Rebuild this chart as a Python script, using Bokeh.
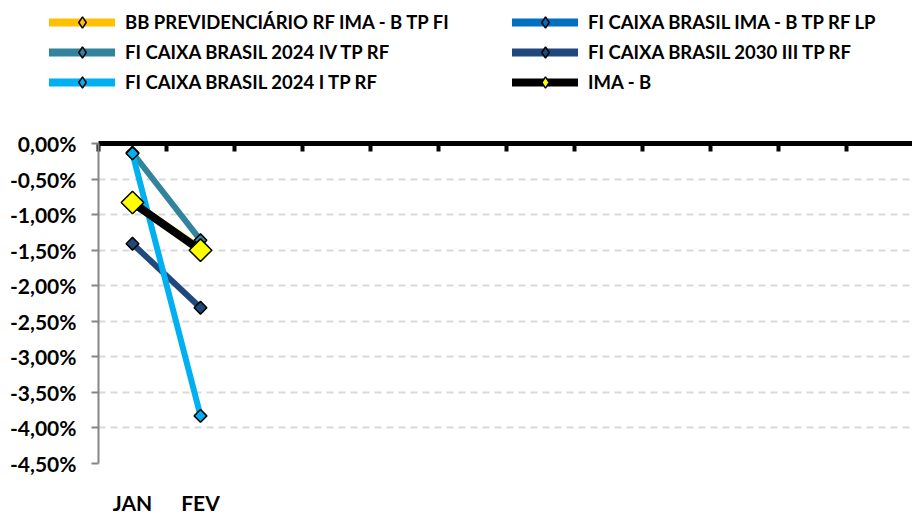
from bokeh.plotting import figure
from bokeh.models import (Range1d, FixedTicker, Legend, LegendItem, LinearAxis,
                          ColumnDataSource)
from bokeh.layouts import column
from bokeh.embed import file_html
from bokeh.resources import INLINE
import numpy as np

# ---------------- data ----------------
months = ["JAN", "FEV"]
month_pos = [0.5, 1.5]
n_categories = 12

series_names = [
    "BB PREVIDENCIÁRIO RF IMA - B TP FI",
    "FI CAIXA BRASIL IMA - B TP RF LP",
    "FI CAIXA BRASIL 2024 IV TP RF",
    "FI CAIXA BRASIL 2030 III TP RF",
    "FI CAIXA BRASIL 2024 I TP RF",
    "IMA - B",
]
bb_prev = [-0.83, -1.47]
caixa_imab_lp = [-0.85, -1.49]
caixa_2024_iv = [-0.13, -1.36]
caixa_2030_iii = [-1.41, -2.31]
caixa_2024_i = [-0.14, -3.83]
ima_b = [-0.83, -1.50]

y_ticks = [0, -0.5, -1.0, -1.5, -2.0, -2.5, -3.0, -3.5, -4.0, -4.5]
y_tick_labels = ["0,00%", "-0,50%", "-1,00%", "-1,50%", "-2,00%",
                 "-2,50%", "-3,00%", "-3,50%", "-4,00%", "-4,50%"]

series_values = [bb_prev, caixa_imab_lp, caixa_2024_iv, caixa_2030_iii, caixa_2024_i, ima_b]
line_colors = ["#FFC000", "#0070C0", "#31849B", "#1F497D", "#00B0F0", "#000000"]
marker_fills = ["#FFC000", "#0070C0", "#31849B", "#1F497D", "#00B0F0", "#FFFF00"]

FONT = "Lato"
W = 912
LEG_H = 100
MAIN_H = 417
LEFT = 98

# ---------------- legend strip ----------------
leg_fig = figure(width=W, height=LEG_H, output_backend="svg", toolbar_location=None,
                 x_range=Range1d(10, 11), y_range=Range1d(10, 11),
                 x_axis_location=None, y_axis_location=None,
                 min_border_left=0, min_border_right=0, min_border_top=0, min_border_bottom=0)
leg_fig.outline_line_color = None
leg_fig.xgrid.visible = False
leg_fig.ygrid.visible = False

# ---------------- main chart ----------------
frame_w = W - LEFT
p = figure(width=W, height=MAIN_H, output_backend="svg", toolbar_location=None,
           x_range=Range1d(0, frame_w / 68), y_range=Range1d(-4.5, 0),
           x_axis_location=None, y_axis_location="left",
           min_border_left=LEFT, min_border_right=0, min_border_top=43, min_border_bottom=44)
p.outline_line_color = None

# keep the legend strip's frame independent from the chart's frame
unaligned = True
try:
    leg_fig.frame_align = False
    p.frame_align = False
except Exception:
    unaligned = False

items = []
for i, (name, vals) in enumerate(zip(series_names, series_values)):
    src = ColumnDataSource(dict(x=month_pos[:len(vals)], y=vals))
    rl = leg_fig.line("x", "y", source=src, line_color=line_colors[i], line_width=8, line_cap="round")
    rm = leg_fig.scatter("x", "y", source=src, marker="diamond", size=10,
                         fill_color=marker_fills[i], line_color="black", line_width=1.5)
    items.append(LegendItem(label=name, renderers=[rl, rm]))


def make_legend(its, loc, gw):
    return Legend(items=its, location=loc, orientation="vertical",
                  label_text_font=FONT, label_text_font_style="bold",
                  label_text_font_size="18.5px", label_text_color="black",
                  glyph_width=gw, glyph_height=28, label_height=28, label_standoff=10,
                  spacing=2, padding=0, margin=0,
                  border_line_color=None, background_fill_alpha=0)


if unaligned:
    leg_fig.add_layout(make_legend([items[0], items[2], items[4]], (49, 4), 66))
    leg_fig.add_layout(make_legend([items[1], items[3], items[5]], (512, 4), 66))
else:
    leg_fig.add_layout(make_legend([items[0], items[2], items[4]], (0, 4), 24))
    leg_fig.add_layout(make_legend([items[1], items[3], items[5]], (512 - LEFT, 4), 66))

# y axis
ya = p.yaxis[0]
ya.ticker = FixedTicker(ticks=y_ticks)
ya.major_label_overrides = {t: l for t, l in zip(y_ticks, y_tick_labels)}
ya.axis_line_color = "#868686"
ya.axis_line_width = 2
ya.major_tick_line_color = "#868686"
ya.major_tick_line_width = 2
ya.major_tick_out = 7
ya.major_tick_in = 0
ya.minor_tick_line_color = None
ya.major_label_standoff = 15
ya.major_label_text_font = FONT
ya.major_label_text_font_style = "bold"
ya.major_label_text_font_size = "21px"
ya.major_label_text_color = "black"

# grid
p.xgrid.visible = False
p.ygrid.ticker = FixedTicker(ticks=y_ticks)
p.ygrid.grid_line_color = "#D9D9D9"
p.ygrid.grid_line_width = 2
p.ygrid.grid_line_dash = "7 5"

# category axis crossing at zero (top)
top_axis = LinearAxis(ticker=FixedTicker(ticks=list(range(0, n_categories + 1))))
top_axis.axis_line_color = "black"
top_axis.axis_line_width = 5
top_axis.major_tick_line_color = "black"
top_axis.major_tick_line_width = 4
top_axis.major_tick_in = 8
top_axis.major_tick_out = 0
top_axis.minor_tick_line_color = None
top_axis.major_label_text_color = None
top_axis.major_label_text_font_size = "1px"
p.add_layout(top_axis, "above")

# month labels axis (bottom)
bottom_axis = LinearAxis(ticker=FixedTicker(ticks=month_pos),
                         major_label_overrides={pos: m for pos, m in zip(month_pos, months)})
bottom_axis.axis_line_color = None
bottom_axis.major_tick_line_color = None
bottom_axis.minor_tick_line_color = None
bottom_axis.major_label_standoff = 20
bottom_axis.major_label_text_font = FONT
bottom_axis.major_label_text_font_style = "bold"
bottom_axis.major_label_text_font_size = "21px"
bottom_axis.major_label_text_color = "black"
p.add_layout(bottom_axis, "below")

# series
for i, (name, vals) in enumerate(zip(series_names, series_values)):
    src = ColumnDataSource(dict(x=month_pos[:len(vals)], y=vals))
    is_idx = (i == len(series_names) - 1)
    p.line("x", "y", source=src, line_color=line_colors[i],
           line_width=8 if is_idx else 6, line_cap="round", line_join="round")
    p.scatter("x", "y", source=src, marker="square", angle=np.pi / 4,
              size=16 if is_idx else 9, fill_color=marker_fills[i],
              line_color="black", line_width=1.5)

layout = column(leg_fig, p, spacing=0)
open("out.html", "w").write(file_html(layout, INLINE))
